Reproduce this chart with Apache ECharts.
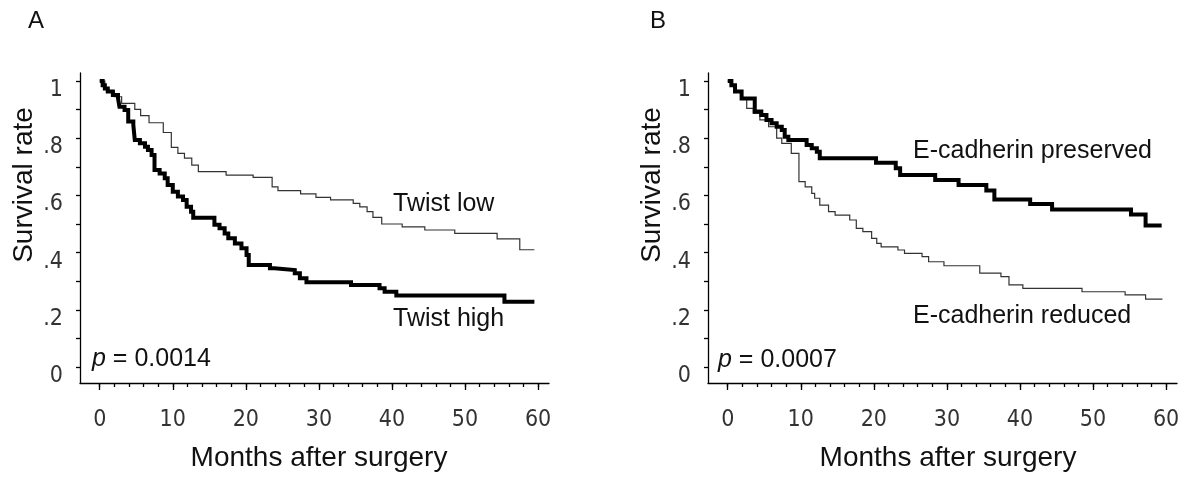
<!DOCTYPE html>
<html>
<head>
<meta charset="utf-8">
<script src="https://cdn.jsdelivr.net/npm/echarts@6/dist/echarts.min.js"></script>
<style>
  html, body { margin: 0; padding: 0; background: #fff; }
  #chart { width: 1200px; height: 482px; }
</style>
</head>
<body>
<div id="chart"></div>
<script>
  // 生存曲线数据（Kaplan-Meier，阶梯线）
  const twistLowT = [0, 0.7, 1.2, 2.0, 3.0, 4.8, 5.6, 6.75, 8.7, 9.8, 10.7, 11.6, 12.6, 13.5, 17.3, 21.0, 23.6, 24.4, 27.5, 29.6, 31.6, 34.7, 35.6, 36.6, 37.4, 38.6, 41.4, 44.5, 48.6, 54.4, 57.5, 59.5]
  const twistLowS = [1, 0.975, 0.963, 0.945, 0.922, 0.901, 0.879, 0.854, 0.82, 0.768, 0.747, 0.73, 0.706, 0.683, 0.671, 0.663, 0.63, 0.617, 0.605, 0.593, 0.584, 0.572, 0.56, 0.543, 0.523, 0.5, 0.49, 0.479, 0.467, 0.448, 0.41, 0.41]

  const twistHighT = [0, 0.4, 0.7, 1.1, 1.8, 2.5, 2.7, 3.4, 3.9, 4.6, 4.8, 5.5, 6.2, 6.6, 7.1, 7.5, 8.2, 8.9, 9.3, 10.0, 10.7, 11.4, 11.9, 12.5, 12.8, 15.7, 16.4, 17.1, 17.6, 18.5, 19.4, 20.1, 20.4, 23.3, 23.9, 26.7, 27.4, 28.3, 34.4, 38.3, 39.0, 40.6, 55.4, 59.5]
  const twistHighS = [1, 0.985, 0.974, 0.963, 0.951, 0.94, 0.91, 0.899, 0.858, 0.846, 0.794, 0.782, 0.77, 0.759, 0.741, 0.689, 0.677, 0.66, 0.636, 0.613, 0.596, 0.584, 0.56, 0.543, 0.522, 0.497, 0.485, 0.467, 0.45, 0.432, 0.415, 0.392, 0.357, 0.345, 0.339, 0.328, 0.31, 0.296, 0.287, 0.275, 0.263, 0.25, 0.228, 0.228]

  const preservedT = [0, 0.5, 1.0, 1.9, 3.7, 4.6, 5.3, 6.0, 6.7, 7.4, 7.8, 8.3, 10.8, 11.5, 12.2, 12.6, 20.3, 23.0, 23.6, 28.4, 31.6, 35.4, 36.5, 41.4, 44.4, 55.2, 57.2, 59.4]
  const preservedS = [1, 0.985, 0.963, 0.939, 0.893, 0.881, 0.864, 0.852, 0.84, 0.829, 0.805, 0.794, 0.776, 0.765, 0.753, 0.73, 0.714, 0.695, 0.671, 0.654, 0.636, 0.617, 0.586, 0.57, 0.551, 0.533, 0.495, 0.495]

  const reducedT = [0, 0.5, 1.0, 1.9, 2.6, 3.5, 4.4, 5.6, 6.7, 7.4, 8.7, 9.75, 10.6, 11.5, 11.9, 12.6, 13.8, 14.7, 16.7, 17.6, 18.5, 19.7, 20.4, 21.0, 23.3, 24.2, 26.6, 27.5, 29.6, 34.5, 37.4, 38.5, 40.4, 48.5, 54.4, 57.2, 59.5]
  const reducedS = [1, 0.985, 0.963, 0.939, 0.904, 0.887, 0.864, 0.84, 0.8, 0.782, 0.747, 0.648, 0.63, 0.607, 0.59, 0.566, 0.543, 0.531, 0.514, 0.485, 0.473, 0.45, 0.432, 0.42, 0.409, 0.397, 0.386, 0.368, 0.354, 0.328, 0.316, 0.287, 0.275, 0.263, 0.252, 0.237, 0.237]

  // 刻度
  const xMinorTicks = [0, 2, 4, 6, 8, 10, 12, 14, 16, 18, 20, 22, 24, 26, 28, 30, 32, 34, 36, 38, 40, 42, 44, 46, 48, 50, 52, 54, 56, 58, 60]
  const xMajorTicks = [0, 10, 20, 30, 40, 50, 60]
  const yTicks = [0, 0.1, 0.2, 0.3, 0.4, 0.5, 0.6, 0.7, 0.8, 0.9, 1]
  const yLabels = [0, 0.2, 0.4, 0.6, 0.8, 1]

  const pairs = (t, s) => t.map((v, i) => [v, s[i]])

  const FONT = "'Liberation Sans', Arial, sans-serif"
  const NARROW = "'Liberation Sans Narrow', 'DejaVu Sans Condensed', 'Liberation Sans', sans-serif"
  const lineBlack = { color: '#000', width: 1.3 }

  function xAxes(gridIndex) {
    return [
      {
        type: 'value', gridIndex: gridIndex, min: -2.7, max: 61.5,
        splitLine: { show: false },
        axisLine: { show: true, onZero: false, lineStyle: lineBlack },
        axisTick: { show: true, customValues: xMinorTicks, length: 4, lineStyle: lineBlack },
        axisLabel: { show: false }
      },
      {
        // 主刻度（稍长）和刻度标签
        type: 'value', gridIndex: gridIndex, min: -2.7, max: 61.5, position: 'bottom',
        splitLine: { show: false },
        axisLine: { show: false, onZero: false },
        axisTick: { show: true, customValues: xMajorTicks, length: 7, lineStyle: lineBlack },
        axisLabel: {
          customValues: xMajorTicks, margin: 26,
          fontFamily: NARROW, fontSize: 23, color: '#333'
        }
      }
    ]
  }

  function yAxis(gridIndex) {
    return {
      type: 'value', gridIndex: gridIndex, min: -0.056, max: 1.028,
      splitLine: { show: false },
      axisLine: { show: true, onZero: false, lineStyle: lineBlack },
      axisTick: { show: true, customValues: yTicks, length: 4, lineStyle: lineBlack },
      axisLabel: {
        customValues: yLabels, margin: 17,
        verticalAlign: 'top', lineHeight: 18,
        fontFamily: NARROW, fontSize: 23, color: '#333',
        formatter: function(v) {
          if (v === 0) return '0'
          if (v === 1) return '1'
          return '.' + Math.round(v * 10)
        }
      }
    }
  }

  function stepLine(data, xi, yi, thick) {
    return {
      type: 'line', step: 'end', xAxisIndex: xi, yAxisIndex: yi,
      data: data, symbol: 'none', silent: true,
      lineStyle: thick
        ? { color: '#000', width: 4, cap: 'butt', join: 'miter' }
        : { color: '#333', width: 1.2, cap: 'butt', join: 'miter' }
    }
  }

  function txt(x, y, text, size, align, rotation) {
    return {
      type: 'text', x: x, y: y, rotation: rotation || 0,
      style: { text: text, fontFamily: FONT, fontSize: size, fill: '#111', align: align || 'left', verticalAlign: 'middle' }
    }
  }

  function pText(x, y, val) {
    return {
      type: 'text', x: x, y: y,
      style: {
        text: '{i|p} = ' + val, fontFamily: FONT, fontSize: 25, fill: '#111',
        align: 'left', verticalAlign: 'middle',
        rich: { i: { fontStyle: 'italic', fontFamily: FONT, fontSize: 25, fill: '#111' } }
      }
    }
  }

  const myChart = echarts.init(document.getElementById('chart'), null, { renderer: 'canvas' })
  myChart.setOption({
    animation: false,
    backgroundColor: '#fff',
    grid: [
      { left: 80, top: 73, width: 469, height: 310 },
      { left: 708, top: 73, width: 469, height: 310 }
    ],
    xAxis: xAxes(0).concat(xAxes(1)),
    yAxis: [yAxis(0), yAxis(1)],
    series: [
      stepLine(pairs(twistLowT, twistLowS), 0, 0, false),
      stepLine(pairs(twistHighT, twistHighS), 0, 0, true),
      stepLine(pairs(reducedT, reducedS), 2, 1, false),
      stepLine(pairs(preservedT, preservedS), 2, 1, true)
    ],
    graphic: [
      txt(28, 21, 'A', 24),
      txt(650, 21, 'B', 24),
      txt(24, 185, 'Survival rate', 28, 'center', Math.PI / 2),
      txt(652, 185, 'Survival rate', 28, 'center', Math.PI / 2),
      txt(319, 458, 'Months after surgery', 28, 'center'),
      txt(948, 458, 'Months after surgery', 28, 'center'),
      txt(393, 204, 'Twist low', 25),
      txt(393, 319, 'Twist high', 25),
      txt(913, 151, 'E-cadherin preserved', 25),
      txt(913, 316, 'E-cadherin reduced', 25),
      pText(92, 359, '0.0014'),
      pText(718, 360, '0.0007')
    ]
  })
</script>
</body>
</html>
